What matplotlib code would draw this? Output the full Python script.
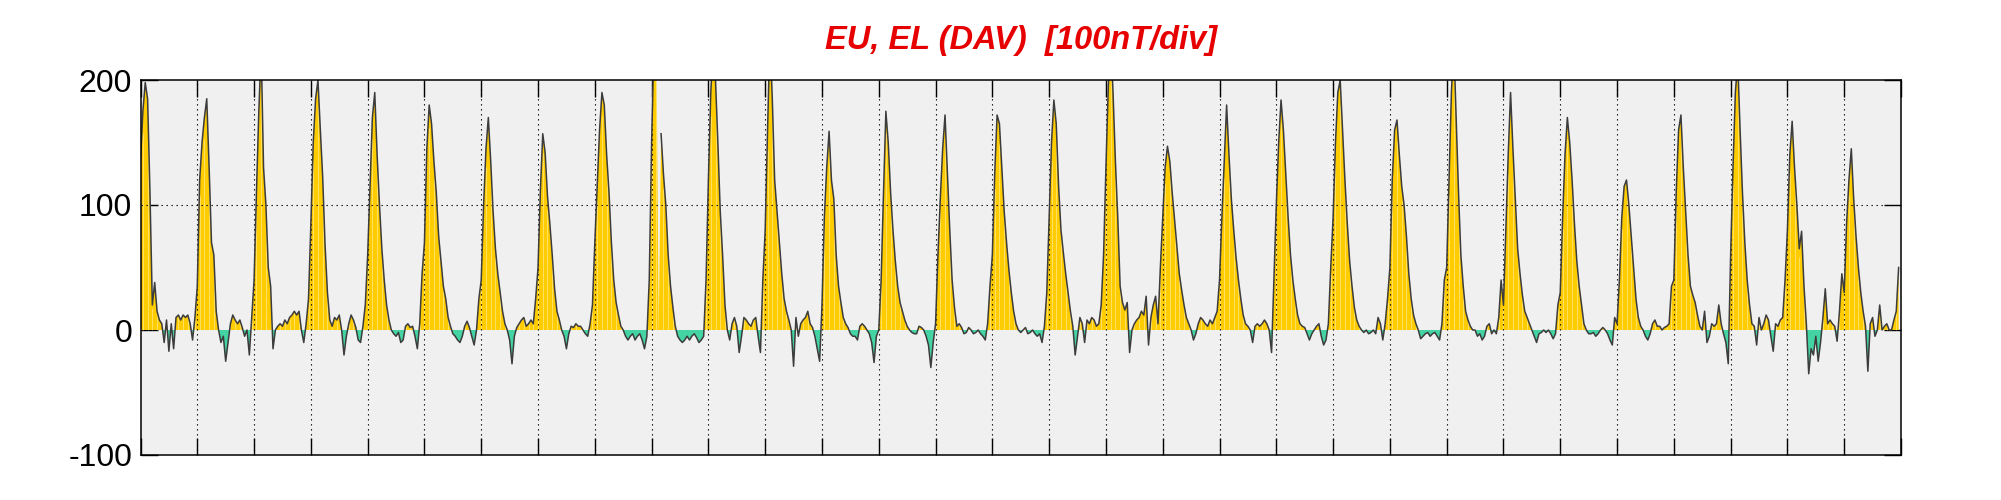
import matplotlib
matplotlib.use('Agg')
import matplotlib.pyplot as plt
import numpy as np

nan = float('nan')

# hourly values (nT), one list per day (nan = data gap)
d01 = [135, 175, 198, 185, 110, 20, 38, 15, 8, 5, -10, 8, -17, 5, -15, 10, 12, 8, 12, 10, 12, 5, -8, 10]
d02 = [35, 120, 150, 170, 185, 130, 70, 60, 15, 0, -10, -5, -25, -10, 5, 12, 8, 5, 8, 2, -5, 0, -20, 10]
d03 = [40, 110, 175, 225, 130, 100, 50, 35, -15, 0, 3, 5, 3, 8, 5, 10, 12, 15, 12, 15, 0, -10, 5, 25]
d04 = [85, 150, 185, 200, 160, 122, 68, 30, 8, 3, 10, 8, 12, 0, -20, -5, 5, 12, 8, 2, -8, -10, 3, 20]
d05 = [60, 115, 170, 190, 140, 100, 65, 40, 20, 8, 0, -3, -5, -2, -10, -8, 3, 5, 2, 3, -5, -15, 5, 45]
d06 = [70, 145, 180, 165, 135, 110, 75, 55, 35, 25, 10, 3, -3, -5, -8, -10, -5, 3, 7, 2, -5, -12, 0, 25]
d07 = [40, 100, 145, 170, 135, 95, 65, 45, 30, 15, 5, 0, -8, -27, -5, 2, 5, 8, 10, 3, 5, 8, 5, 25]
d08 = [50, 112, 157, 142, 107, 85, 60, 33, 15, 8, 0, -5, -15, -3, 3, 2, 5, 3, 3, 0, -3, -5, 5, 20]
d09 = [70, 115, 160, 190, 180, 140, 110, 70, 40, 22, 12, 3, 0, -5, -8, -5, -3, -8, -5, -3, -8, -15, -5, 40]
d10 = [150, 230, 240, nan, 157, 125, 100, 60, 35, 18, 3, -5, -8, -10, -8, -5, -8, -5, -3, -6, -10, -8, -5, 40]
d11 = [120, 190, 225, 200, 150, 95, 60, 20, 0, -8, 5, 10, 3, -18, -5, 10, 8, 5, 3, 8, 10, -5, -18, 40]
d12 = [80, 160, 235, 185, 120, 95, 70, 45, 25, 15, 8, 0, -29, 10, -5, 5, 8, 10, 15, 5, 2, -5, -15, -25]
d13 = [20, 90, 130, 159, 120, 105, 60, 35, 22, 10, 5, 2, -3, -5, -5, -8, 3, 5, 3, 0, -3, -10, -26, -5]
d14 = [0, 40, 110, 175, 150, 110, 80, 55, 35, 22, 15, 8, 3, 0, -2, -3, -3, 3, 2, 0, -5, -12, -30, -10]
d15 = [5, 60, 105, 145, 172, 125, 80, 40, 18, 3, 5, 2, -3, -2, 2, 0, -3, -2, 0, -3, -5, -8, 5, 35]
d16 = [60, 125, 172, 165, 130, 95, 70, 48, 30, 15, 5, 0, -2, 0, 2, -3, -2, 0, -3, -5, -3, -10, 3, 30]
d17 = [90, 150, 184, 165, 115, 80, 62, 45, 30, 15, 3, -20, -5, 10, 5, -10, 8, 5, 10, 8, 3, 5, 20, 60]
d18 = [130, 195, 235, 190, 135, 90, 35, 22, 16, 22, -18, 0, 5, 8, 10, 15, 12, 27, -12, 10, 20, 27, 5, 50]
d19 = [90, 130, 147, 135, 110, 88, 65, 45, 32, 20, 10, 5, 0, -8, -3, 5, 10, 8, 5, 3, 8, 5, 10, 15]
d20 = [40, 90, 135, 180, 140, 105, 80, 58, 40, 25, 12, 5, 3, 0, -10, 3, 5, 3, 5, 8, 5, 0, -18, 40]
d21 = [100, 150, 184, 160, 125, 90, 60, 40, 25, 12, 5, 3, 2, -3, -8, -3, 0, 3, 5, -5, -12, -8, 5, 50]
d22 = [90, 150, 190, 200, 160, 120, 85, 55, 35, 18, 8, 3, 0, -2, 0, -3, -2, 0, -3, 10, 5, -8, 5, 25]
d23 = [50, 120, 160, 168, 140, 115, 100, 75, 45, 25, 12, 5, 0, -7, -5, -3, -2, -5, -3, -2, -5, -8, 5, 40]
d24 = [50, 120, 190, 230, 170, 110, 60, 35, 15, 8, 3, 0, 0, -5, -3, -8, -5, 3, 5, -3, 0, -3, 10, 40]
d25 = [20, 80, 140, 190, 145, 105, 65, 45, 28, 15, 10, 5, 0, -5, -10, -3, -2, 0, -2, 0, -3, -7, -3, 20]
d26 = [30, 90, 140, 170, 150, 120, 85, 55, 35, 20, 5, 0, -3, -3, -2, -5, -3, 0, 2, 0, -3, -8, -12, 10]
d27 = [5, 40, 90, 115, 120, 100, 75, 50, 25, 10, 3, 0, -5, -8, -3, 5, 8, 3, 3, 0, 2, 3, 5, 35]
d28 = [40, 110, 160, 172, 130, 95, 60, 35, 28, 22, 12, 3, 0, 15, -10, -5, 5, 3, 5, 20, 5, -3, -10, -27]
d29 = [60, 130, 190, 215, 160, 110, 70, 40, 20, 5, 3, -12, 10, 0, 5, 12, 8, -5, -17, 5, 3, 8, 10, 40]
d30 = [80, 140, 167, 130, 100, 65, 79, 35, 5, -35, -15, -20, -5, -25, -10, 10, 33, 5, 8, 5, 3, -9, 15, 45]
d31 = [30, 85, 120, 145, 105, 75, 50, 30, 15, 3, -33, 5, 10, -5, 0, 20, 0, 3, 5, 0, 0, 8, 15, 50]

days = [d01, d02, d03, d04, d05, d06, d07, d08, d09, d10, d11, d12, d13, d14, d15, d16,
        d17, d18, d19, d20, d21, d22, d23, d24, d25, d26, d27, d28, d29, d30, d31]
ytick_vals = [-100, 0, 100, 200]
title = "EU, EL (DAV)  [100nT/div]"

vals = np.array([v for d in days for v in d], dtype=float)
t = np.arange(len(vals)) / 24.0
ndays = len(days)

plt.rcParams['font.family'] = ['Liberation Sans', 'DejaVu Sans']

fig = plt.figure(figsize=(20.01, 5.0), dpi=100)
ax = fig.add_axes([140.5 / 2001, 45 / 500, (1901 - 140.5) / 2001, 375 / 500])
ax.set_facecolor('#F0F0F0')

yellow = '#FFCC00'
teal = '#44D4A4'
ok = ~np.isnan(vals)
v0 = np.nan_to_num(vals)
ax.fill_between(t, 0, v0, where=ok & (v0 >= 0), interpolate=True, color=yellow, lw=0, zorder=2)
ax.fill_between(t, 0, v0, where=ok & (v0 <= 0), interpolate=True, color=teal, lw=0, zorder=2)

# faint white stripes inside the yellow area
pos = ok & (v0 > 0)
ax.vlines(t[pos][1::2], 0, v0[pos][1::2] * 0.9, colors='white', lw=0.5, alpha=0.55, zorder=2.5)

# dotted day separators and 100 line
for k in range(1, ndays):
    ax.axvline(k, color='black', lw=0.8, linestyle=(0, (1.2, 3.3)), zorder=3)
ax.axhline(100, color='black', lw=0.8, linestyle=(0, (1.2, 3.3)), zorder=3)

ax.plot(t, vals, color='#3C3C3C', lw=1.1, zorder=4)

ax.set_xlim(0, ndays)
ax.set_ylim(-100, 200)
ax.set_xticks(range(0, ndays + 1))
ax.set_xticklabels([])
ax.set_yticks(ytick_vals)
ax.set_yticklabels([str(v) for v in ytick_vals])
ax.tick_params(axis='x', direction='in', length=12.5, width=1.0, top=True, bottom=True)
ax.tick_params(axis='y', direction='in', length=12.5, width=1.0, left=True, right=True,
               labelsize=23, pad=6)
for s in ax.spines.values():
    s.set_linewidth(1.1)
    s.set_zorder(5)

fig.text(1021 / 2001, 1 - 41 / 500, title, color='#E60000', fontsize=23.5,
         fontweight='bold', fontstyle='italic', ha='center', va='center')

fig.savefig('out.png', dpi=100)
plt.close(fig)
